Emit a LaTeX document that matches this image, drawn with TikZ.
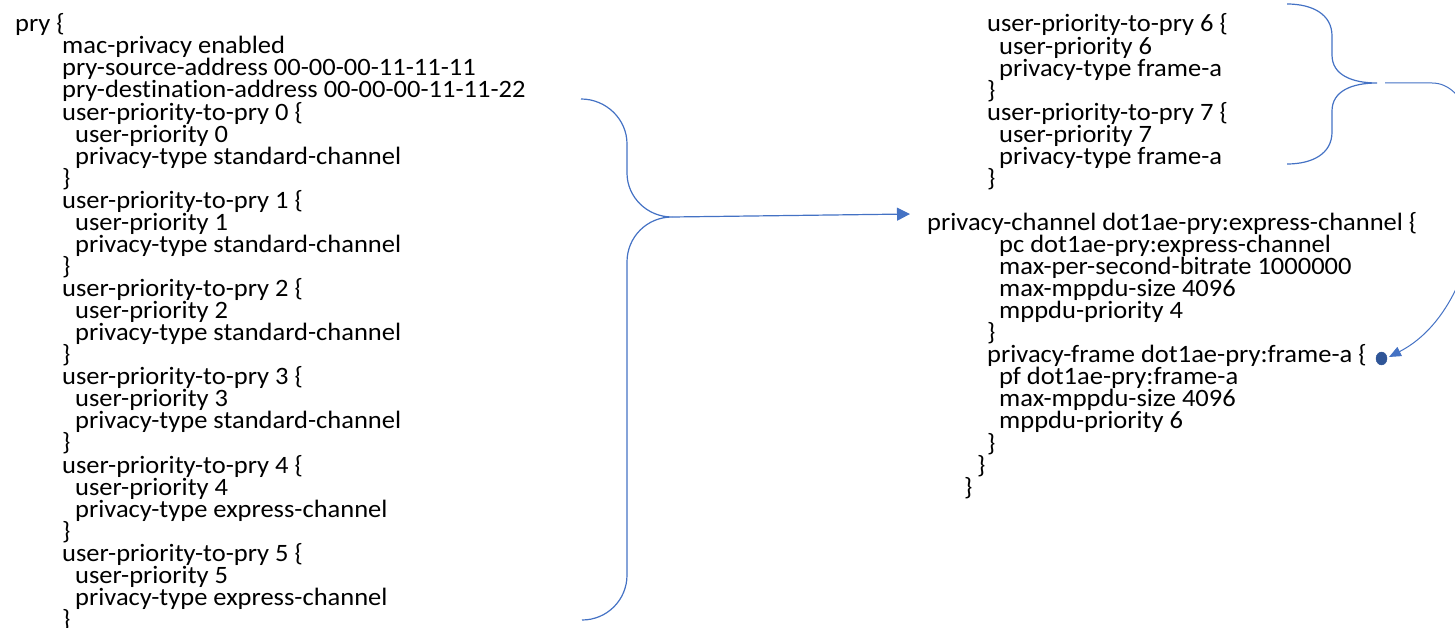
\documentclass[tikz,border=0pt]{standalone}
\usepackage{fontspec}
\setmainfont{Carlito}[FakeStretch=1.06,Ligatures=NoCommon]
\usetikzlibrary{shapes,arrows.meta,positioning}
\definecolor{linkblue}{HTML}{4472C4}
\definecolor{dotblue}{HTML}{2F5597}
\tikzset{
  every node/.style={
    font=\fontsize{25}{22}\selectfont
  },
  codeline/.style={
    anchor=base west,
    inner sep=0pt,
    text height=15pt,
    text depth=4pt,
    text=black
  },
  bracket/.style={
    draw=linkblue,
    line width=1.2pt
  },
  link/.style={
    draw=linkblue,
    line width=1.2pt,
    -{Triangle[length=13pt,width=13pt]}
  },
  backlink/.style={
    draw=linkblue,
    line width=1pt,
    -{Triangle[length=12pt,width=10pt]}
  },
  framedot/.style={
    shape=ellipse,
    draw=dotblue,
    fill=dotblue,
    inner sep=0pt,
    minimum width=11pt,
    minimum height=13pt
  }
}
\begin{document}
\begin{tikzpicture}[x=1pt,y=-1pt]
  \useasboundingbox (0,0) rectangle (1455,628);
  % left listing
  \node [codeline] (pry) at (15,32) {pry \{};
  \node [codeline] (mac) at (62,54) {mac-privacy enabled};
  \node [codeline] (src) at (62,76) {pry-source-address 00-00-00-11-11-11};
  \node [codeline] (dst) at (62,98) {pry-destination-address 00-00-00-11-11-22};
  \foreach \k/\t in {0/standard,1/standard,2/standard,3/standard,4/express,5/express}{
    \pgfmathsetmacro{\y}{32+22.05*(4+4*\k)}
    \node [codeline] (utp\k) at (62,\y) {user-priority-to-pry \k\ \{};
    \node [codeline] (up\k) at (75,\y+22.05) {user-priority \k};
    \node [codeline] (pt\k) at (75,\y+44.1) {privacy-type \t-channel};
    \node [codeline] (end\k) at (62,\y+66.15) {\}};
  }
  % right listing
  \foreach \k [count=\n from 0] in {6,7}{
    \pgfmathsetmacro{\y}{32+88.2*\n}
    \node [codeline] (utp\k) at (987,\y) {user-priority-to-pry \k\ \{};
    \node [codeline] (up\k) at (999,\y+22.05) {user-priority \k};
    \node [codeline] (pt\k) at (999,\y+44.1) {privacy-type frame-a};
    \node [codeline] (end\k) at (987,\y+66.15) {\}};
  }
  \node [codeline] (pchan) at (927,230.5) {privacy-channel dot1ae-pry:express-channel \{};
  \node [codeline] (pc) at (999,252.5) {pc dot1ae-pry:express-channel};
  \node [codeline] (rate) at (999,274.6) {max-per-second-bitrate 1000000};
  \node [codeline] (size) at (999,296.6) {max-mppdu-size 4096};
  \node [codeline] (prio) at (999,318.7) {mppdu-priority 4};
  \node [codeline] (pcend) at (987,340.7) {\}};
  \node [codeline] (pframe) at (987,362.8) {privacy-frame dot1ae-pry:frame-a \{};
  \node [codeline] (pf) at (999,384.8) {pf dot1ae-pry:frame-a};
  \node [codeline] (fsize) at (999,406.9) {max-mppdu-size 4096};
  \node [codeline] (fprio) at (999,428.9) {mppdu-priority 6};
  \node [codeline] (pfend) at (987,451) {\}};
  \node [codeline] (mapend) at (977,473) {\}};
  \node [codeline] (pryend) at (964,495.1) {\}};
  \node [framedot] (dot) at (1381.5,358.5) {};

  % brackets and links
  \coordinate (lTop) at (581,99);
  \coordinate (lTip) at (672,217);
  \coordinate (lBot) at (582,620);
  \coordinate (pcIn) at (910,214);
  \draw [bracket] (lTop) .. controls +(25,0) and +(0,-25) .. (627,144)
    -- (627,173) .. controls +(0,24) and +(-25,0) .. (lTip)
    .. controls +(-25,0) and +(0,-25) .. (627,262)
    -- (627,575) .. controls +(0,25) and +(25,0) .. (lBot);
  \draw [link] (lTip) -- (pcIn);

  \coordinate (rTop) at (1287,4);
  \coordinate (rTip) at (1377,83);
  \coordinate (rBot) at (1287,164);
  \coordinate (fOut) at (1385,83);
  \coordinate (fIn) at (1389,357);
  \draw [bracket] (rTop) .. controls +(25,0) and +(0,-22) .. (1332,36)
    -- (1332,55) .. controls +(0,20) and +(-25,0) .. (rTip)
    .. controls +(-25,0) and +(0,-20) .. (1332,111)
    -- (1332,132) .. controls +(0,22) and +(25,0) .. (rBot);
  \draw [backlink] (fOut) -- (1432,83) .. controls (1500,83) and (1500,300) .. (fIn);
\end{tikzpicture}
\end{document}
